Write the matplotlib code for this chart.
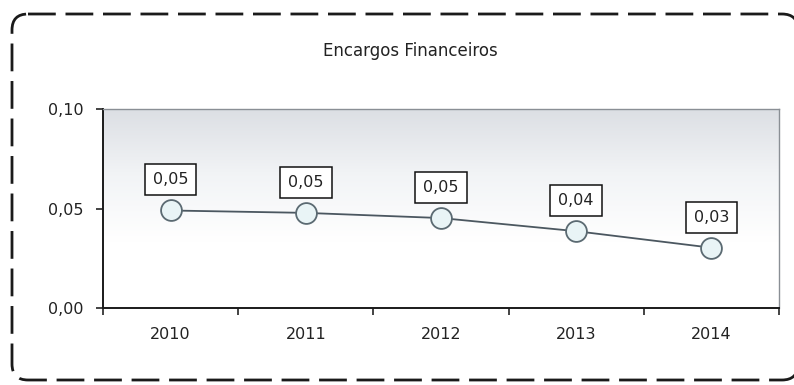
import matplotlib.pyplot as plt
import numpy as np
from matplotlib.patches import FancyBboxPatch
from matplotlib.colors import LinearSegmentedColormap

# data
years = ['2010', '2011', '2012', '2013', '2014']
values = [0.049, 0.0478, 0.0452, 0.0386, 0.0303]
value_labels = ['0,05', '0,05', '0,05', '0,04', '0,03']
y_ticks = [0.00, 0.05, 0.10]
y_tick_labels = ['0,00', '0,05', '0,10']
title = 'Encargos Financeiros'

plt.rcParams['font.family'] = ['DejaVu Sans']
FS = 11.5

fig = plt.figure(figsize=(7.94, 3.85), dpi=100)

# background axes in pixel units for the dashed rounded border
bg = fig.add_axes([0, 0, 1, 1], zorder=0)
bg.set_xlim(0, 794)
bg.set_ylim(385, 0)
bg.axis('off')
border = FancyBboxPatch((12, 14), 786, 366,
                        boxstyle='round,pad=0,rounding_size=16',
                        facecolor='white', edgecolor='#1a1a1a',
                        linewidth=2.0, linestyle=(0, (10, 3.5)))
bg.add_patch(border)

ax = fig.add_axes([103 / 794, 1 - 308 / 385, 676 / 794, 199 / 385], zorder=1)
x = np.arange(len(years))
ax.set_xlim(-0.5, len(years) - 0.5)
ax.set_ylim(0, 0.10)

# gray-to-white gradient in the plot area
cmap = LinearSegmentedColormap.from_list('bg', ['#ffffff', '#ffffff', '#f2f4f6', '#dcdfe4'])
grad = np.linspace(0, 1, 256).reshape(-1, 1)
ax.imshow(grad, aspect='auto', cmap=cmap, origin='lower',
          extent=[-0.5, len(years) - 0.5, 0, 0.10], zorder=0)

ax.plot(x, values, color='#4b5760', linewidth=1.3, zorder=2,
        marker='o', markersize=15, markerfacecolor='#e9f4f6',
        markeredgecolor='#5b6a72', markeredgewidth=1.3)

for xi, v, lab in zip(x, values, value_labels):
    ax.annotate(lab, (xi, v), xytext=(0, 22), textcoords='offset points',
                ha='center', va='center', fontsize=FS, color='#222222',
                bbox=dict(boxstyle='square,pad=0.5', facecolor='white',
                          edgecolor='#111111', linewidth=1.1), zorder=3)

ax.set_yticks(y_ticks)
ax.set_yticklabels(y_tick_labels)
ax.set_xticks(x)
ax.set_xticklabels(years)
ax.set_xticks(np.arange(-0.5, len(years)), minor=True)
ax.tick_params(axis='x', which='major', length=0, pad=14, labelsize=FS, colors='#222222')
ax.tick_params(axis='x', which='minor', length=5, width=1.2, direction='out', color='#222222')
ax.tick_params(axis='y', length=5, width=1.2, pad=9, labelsize=FS, colors='#222222')

for side in ['left', 'bottom']:
    ax.spines[side].set_color('#1a1a1a')
    ax.spines[side].set_linewidth(1.4)
for side in ['top', 'right']:
    ax.spines[side].set_color('#8a8f95')
    ax.spines[side].set_linewidth(1.0)

fig.text(410 / 794, 1 - 51 / 385, title, ha='center', va='center',
         fontsize=12, color='#222222')

fig.savefig('out.png', dpi=100)
